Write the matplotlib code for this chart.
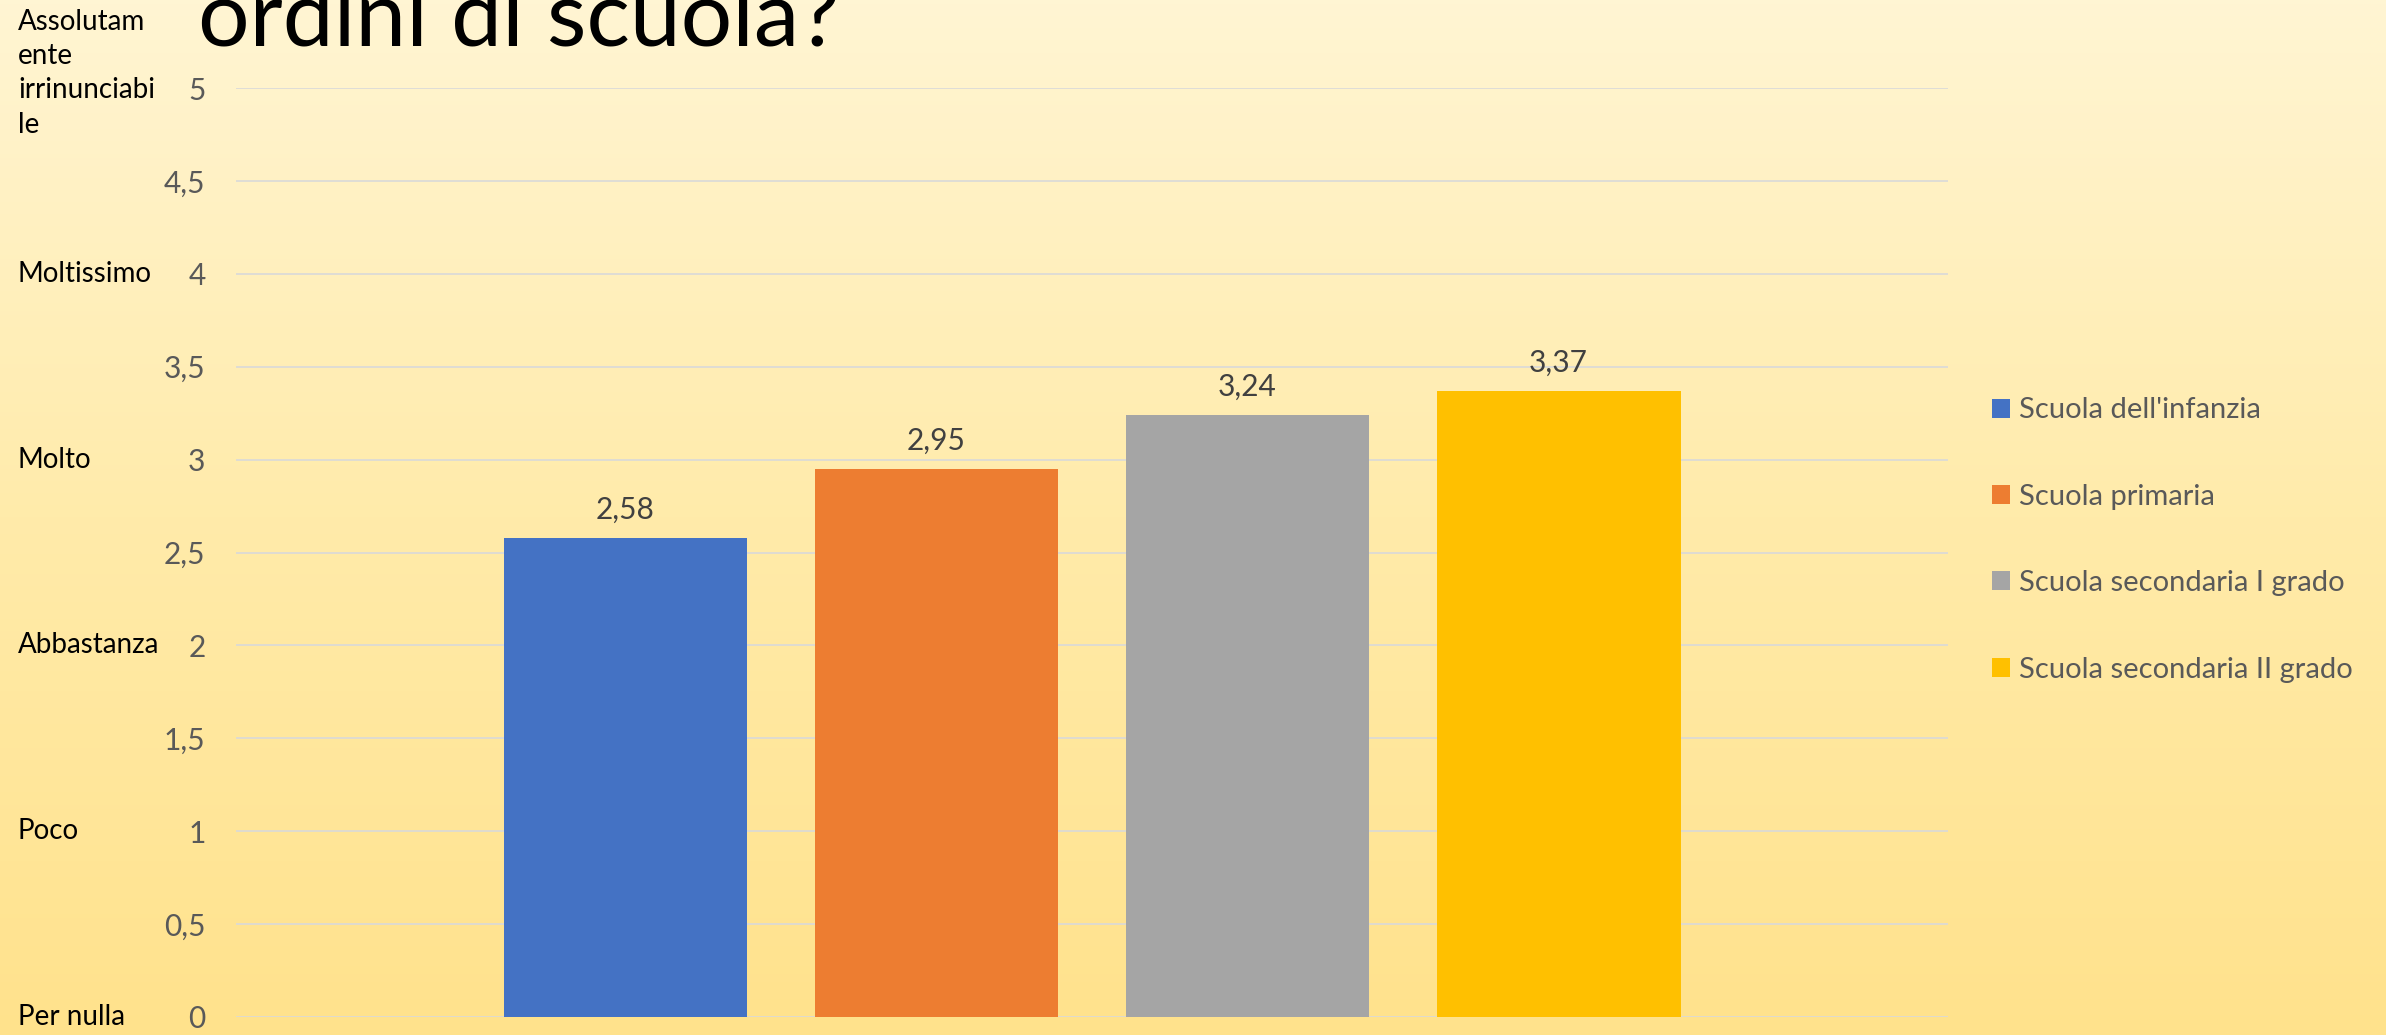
import numpy as np
import matplotlib
matplotlib.use('Agg')
import matplotlib.pyplot as plt
from matplotlib.colors import LinearSegmentedColormap
import matplotlib.transforms as mtransforms

### DATA

series = ["Scuola dell'infanzia", 'Scuola primaria', 'Scuola secondaria I grado', 'Scuola secondaria II grado']
values = [2.58, 2.95, 3.24, 3.37]
colors = ['#4472C4', '#ED7D31', '#A5A5A5', '#FFC000']
yticks = [0, 0.5, 1, 1.5, 2, 2.5, 3, 3.5, 4, 4.5, 5]
scale_labels = ['Assolutam\nente\nirrinunciabi\nle', 'Moltissimo', 'Molto', 'Abbastanza', 'Poco', 'Per nulla']
scale_values = [5, 4, 3, 2, 1, 0]
title = 'ordini di scuola?'

plt.rcParams['font.family'] = ['Lato', 'DejaVu Sans']

W, H = 2386, 1035
fig = plt.figure(figsize=(W / 100, H / 100), dpi=100)

### BACKGROUND GRADIENT

bg = fig.add_axes([0, 0, 1, 1], zorder=-10)
cmap = LinearSegmentedColormap.from_list('bg', ['#FFF5D3', '#FFEBAA', '#FFE28C'])
grad = np.linspace(0, 1, 256).reshape(-1, 1)
bg.imshow(grad, aspect='auto', cmap=cmap, extent=[0, 1, 0, 1], origin='upper')
bg.set_axis_off()

### BARS

ax = fig.add_axes([236 / W, 1 - 1017 / H, (1948 - 236) / W, (1017 - 88) / H])
ax.set_facecolor('none')
x = np.arange(len(values))
bars = ax.bar(x, values, width=0.784, color=colors, label=series, zorder=3)
ax.bar_label(bars, labels=[f'{v:.2f}'.replace('.', ',') for v in values],
             padding=10, fontsize=21.5, color='#404040')

ax.set_xlim(-1.252, len(values) - 1 + 1.252)
ax.set_ylim(0, 5)
ax.set_yticks(yticks)
ax.set_yticklabels([f'{t:g}'.replace('.', ',') for t in yticks], fontsize=21.5, color='#595959')
ax.set_xticks([])
ax.tick_params(axis='y', length=0, pad=22)
ax.grid(axis='y', color='#D9D9D9', linewidth=1.2, zorder=0)
for s in ax.spines.values():
    s.set_visible(False)

# scale words on the far left
trans = mtransforms.blended_transform_factory(fig.transFigure, ax.transData)
for lab, v in zip(scale_labels, scale_values):
    nudge = 0.08 if '\n' in lab else 0
    ax.text(18 / W, v + nudge, lab, transform=trans, ha='left', va='center',
            fontsize=20, color='black', linespacing=1.4, clip_on=False)

leg = ax.legend(loc='center left', bbox_to_anchor=(1992 / W, 1 - 540 / H),
                bbox_transform=fig.transFigure, frameon=False, fontsize=21,
                handlelength=0.62, handleheight=0.62, handletextpad=0.3,
                labelspacing=2.07, borderpad=0, borderaxespad=0)
for t in leg.get_texts():
    t.set_color('#595959')

### TITLE (cut off at the top)

fig.text(198 / W, 1 - 45 / H, title, ha='left', va='baseline', fontsize=65.5, color='black')

fig.savefig('out.png', dpi=100)
